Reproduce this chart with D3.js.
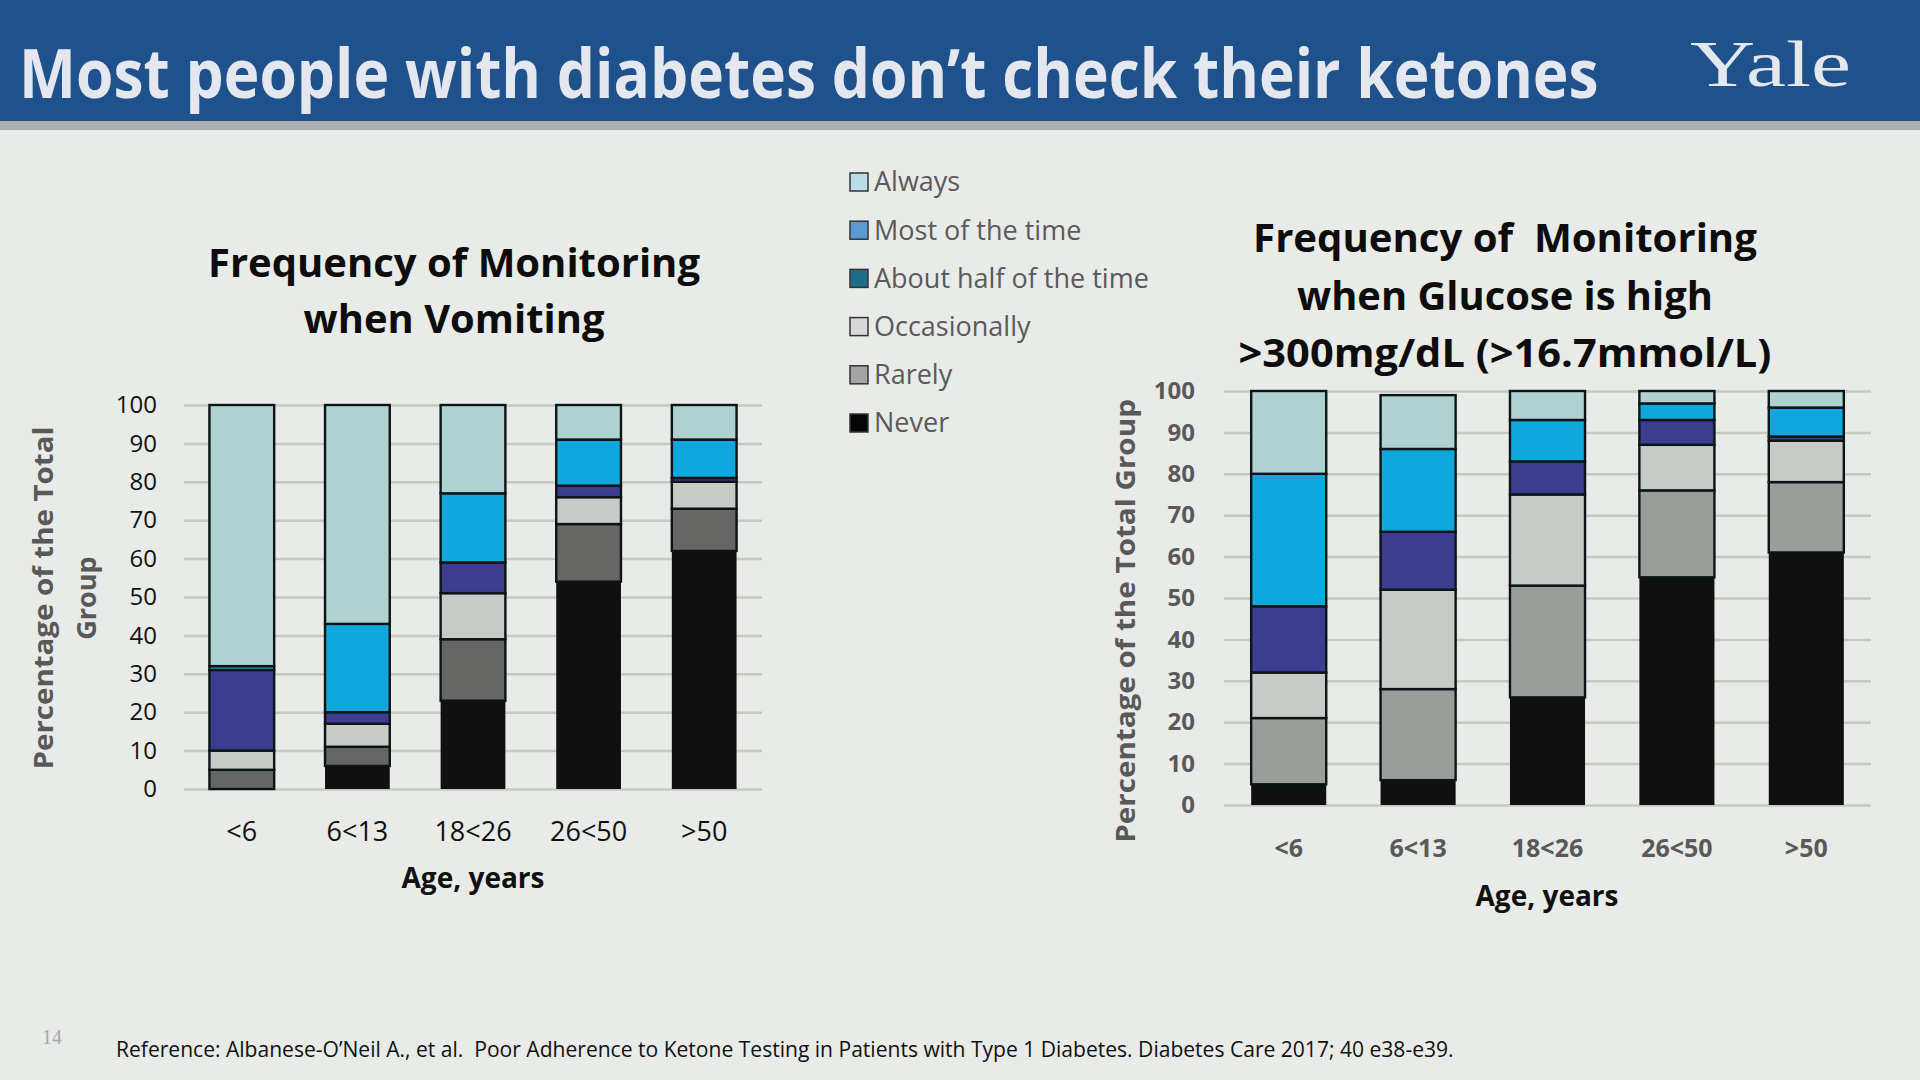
<!DOCTYPE html>
<html>
<head>
<meta charset="utf-8">
<script src="https://cdn.jsdelivr.net/npm/d3@7"></script>
<style>
  html, body { margin: 0; padding: 0; background: #e8ebe7; }
  svg { display: block; }
  text { white-space: pre; }
</style>
</head>
<body>
<svg id="chart" width="1920" height="1080"></svg>
<script>
// ---------------- DATA ----------------
const categories = ["<6", "6<13", "18<26", "26<50", ">50"];
const seriesKeys = ["Never", "Rarely", "Occasionally", "About half of the time", "Most of the time", "Always"];
const legendOrder = ["Always", "Most of the time", "About half of the time", "Occasionally", "Rarely", "Never"];
const yTicks = [0, 10, 20, 30, 40, 50, 60, 70, 80, 90, 100];

// Monitoring when vomiting (% of group)
const vomitNever        = [0, 6, 23, 54, 62];
const vomitRarely       = [5, 5, 16, 15, 11];
const vomitOccasionally = [5, 6, 12, 7, 7];
const vomitHalf         = [21, 3, 8, 3, 1];
const vomitMost         = [1, 23, 18, 12, 10];
const vomitAlways       = [68, 57, 23, 9, 9];

// Monitoring when glucose > 300 mg/dL (% of group)
const glucNever        = [5, 6, 26, 55, 61];
const glucRarely       = [16, 22, 27, 21, 17];
const glucOccasionally = [11, 24, 22, 11, 10];
const glucHalf         = [16, 14, 8, 6, 1];
const glucMost         = [32, 20, 10, 4, 7];
const glucAlways       = [20, 13, 7, 3, 4];

const pageTitle = "Most people with diabetes don\u2019t check their ketones";
const leftTitle = ["Frequency of Monitoring", "when Vomiting"];
const rightTitle = ["Frequency of  Monitoring", "when Glucose is high", ">300mg/dL (>16.7mmol/L)"];
const referenceText = "Reference: Albanese-O\u2019Neil A., et al.  Poor Adherence to Ketone Testing in Patients with Type 1 Diabetes. Diabetes Care 2017; 40 e38-e39.";

// ---------------- STYLE ----------------
const barColorsLeft = {
  "Never": "#101010", "Rarely": "#666764", "Occasionally": "#c8cac6",
  "About half of the time": "#3c3c91", "Most of the time": "#10a8dc", "Always": "#afd2d1"
};
const barColorsRight = Object.assign({}, barColorsLeft, { "Rarely": "#9a9e99" });
const legendColors = {
  "Always": "#b8dde8", "Most of the time": "#5b9bd5", "About half of the time": "#1f6b8c",
  "Occasionally": "#d8d9d6", "Rarely": "#a3a5a2", "Never": "#050505"
};
const FONT = "'Open Sans', 'Noto Sans', sans-serif";

const svg = d3.select("#chart");

// background
svg.append("rect").attr("width", 1920).attr("height", 1080).attr("fill", "#e8ebe7");
// header
svg.append("rect").attr("x", 0).attr("y", 0).attr("width", 1920).attr("height", 121).attr("fill", "#1f528c");
svg.append("rect").attr("x", 0).attr("y", 121).attr("width", 1920).attr("height", 9).attr("fill", "#a9aeb1");

// place text at (x,y), optionally rotated, and squeeze horizontally to width w
function placeText(parent, x, y, w, rot) {
  const t = parent.append("text").attr("x", 0).attr("y", 0);
  t.fitLater = () => {
    const nat = t.node().getComputedTextLength();
    const s = (w && nat > 0) ? w / nat : 1;
    t.attr("transform", `translate(${x},${y})${rot ? ` rotate(${rot})` : ""} scale(${s},1)`);
  };
  return t;
}
const toFit = [];
function fitText(parent, x, y, w, rot) {
  const t = placeText(parent, x, y, w, rot);
  toFit.push(t);
  return t;
}

fitText(svg, 19, 98, 1580).attr("font-family", FONT).attr("font-weight", 700).attr("font-size", 68)
  .attr("fill", "#e4e8ee").text(pageTitle);

fitText(svg, 1690, 86, 161).attr("font-family", "'Liberation Serif', 'DejaVu Serif', serif")
  .attr("font-size", 66).attr("fill", "#e4e8ee").text("Yale");

// ---------------- CHART BUILDER ----------------
function buildChart(opts) {
  const g = svg.append("g");
  const rows = categories.map((c, i) => {
    const o = { cat: c };
    seriesKeys.forEach((k, j) => { o[k] = opts.values[j][i]; });
    return o;
  });
  const stacked = d3.stack().keys(seriesKeys)(rows);

  const x = d3.scaleBand().domain(categories).range([opts.x0, opts.x1])
    .paddingInner(opts.padIn).paddingOuter(opts.padIn / 2);
  const y = d3.scaleLinear().domain([0, 100]).range([opts.y0, opts.y1]);

  // gridlines
  const grid = g.append("g").attr("transform", `translate(${opts.x0},0)`)
    .call(d3.axisLeft(y).tickValues(yTicks).tickSize(-(opts.x1 - opts.x0)).tickFormat(""));
  grid.select(".domain").remove();
  grid.selectAll(".tick line").attr("stroke", "#c6c8c3").attr("stroke-width", 2.5);

  // bars
  g.append("g").selectAll("g").data(stacked).join("g")
    .attr("fill", d => opts.colors[d.key])
    .selectAll("rect").data(d => d.map(v => Object.assign(v, { key: d.key }))).join("rect")
    .filter(d => d[1] - d[0] > 0)
    .attr("x", d => x(d.data.cat))
    .attr("width", x.bandwidth())
    .attr("y", d => y(d[1]))
    .attr("height", d => y(d[0]) - y(d[1]))
    .attr("stroke", d => d.key === "Never" ? "none" : "#0b1515")
    .attr("stroke-width", 2.4);

  // y tick labels
  const ya = g.append("g").attr("transform", `translate(${opts.x0},0)`)
    .call(d3.axisLeft(y).tickValues(yTicks).tickSize(0).tickPadding(opts.yPad));
  ya.select(".domain").remove();
  ya.selectAll("text").attr("font-family", FONT).attr("font-size", opts.tickSize)
    .attr("font-weight", opts.tickWeight).attr("fill", opts.tickColor);

  // x tick labels
  const xa = g.append("g").attr("transform", `translate(0,${opts.y0})`)
    .call(d3.axisBottom(x).tickSize(0).tickPadding(opts.xPad));
  xa.select(".domain").remove();
  xa.selectAll("text").attr("font-family", FONT).attr("font-size", opts.xSize)
    .attr("font-weight", opts.tickWeight).attr("fill", opts.tickColor);

  // x axis title
  g.append("text").attr("x", opts.xTitleX).attr("y", opts.xTitleY).attr("text-anchor", "middle")
    .attr("font-family", FONT).attr("font-weight", 700).attr("font-size", 28)
    .attr("fill", "#111").text("Age, years");

  // y axis title
  opts.yTitle.forEach((t, i) => {
    fitText(g, opts.yTitleX[i], opts.yTitleY, opts.yTitleW[i], -90)
      .attr("text-anchor", "middle")
      .attr("font-family", FONT).attr("font-weight", 700).attr("font-size", 27)
      .attr("fill", "#595959").text(t);
  });

  // chart title
  opts.title.forEach((t, i) => {
    fitText(g, opts.titleX, opts.titleY[i], opts.titleW[i]).attr("text-anchor", "middle")
      .attr("font-family", FONT).attr("font-weight", 700).attr("font-size", 40)
      .attr("fill", "#0d0d0d").text(t);
  });
}

buildChart({
  values: [vomitNever, vomitRarely, vomitOccasionally, vomitHalf, vomitMost, vomitAlways],
  colors: barColorsLeft,
  x0: 184, x1: 762, y0: 789, y1: 405, padIn: 0.44,
  yPad: 27, tickSize: 24, tickWeight: 400, tickColor: "#111",
  xPad: 33, xSize: 27,
  xTitleX: 473, xTitleY: 888,
  yTitle: ["Percentage of the Total", "Group"], yTitleX: [53, 96], yTitleY: 598, yTitleW: [343, 0],
  title: leftTitle, titleX: 454, titleY: [277, 333], titleW: [492, 301]
});

buildChart({
  values: [glucNever, glucRarely, glucOccasionally, glucHalf, glucMost, glucAlways],
  colors: barColorsRight,
  x0: 1224, x1: 1871, y0: 805, y1: 391, padIn: 0.42,
  yPad: 29, tickSize: 24, tickWeight: 700, tickColor: "#595959",
  xPad: 34, xSize: 25,
  xTitleX: 1547, xTitleY: 906,
  yTitle: ["Percentage of the Total Group"], yTitleX: [1135], yTitleY: 621, yTitleW: [444],
  title: rightTitle, titleX: 1505, titleY: [252, 310, 367], titleW: [504, 416, 533]
});

// ---------------- LEGEND ----------------
const legend = svg.append("g");
const legendY = d3.scalePoint().domain(legendOrder).range([182, 423]);
const li = legend.selectAll("g").data(legendOrder).join("g")
  .attr("transform", d => `translate(850,${legendY(d)})`);
li.append("rect").attr("x", 0).attr("y", -9).attr("width", 18).attr("height", 18)
  .attr("fill", d => legendColors[d]).attr("stroke", "#333").attr("stroke-width", 1.5);
li.append("text").attr("x", 24).attr("y", 0).attr("dy", "0.35em")
  .attr("font-family", FONT).attr("font-size", 27).attr("fill", "#5a5a5a").text(d => d);

// ---------------- FOOTER ----------------
svg.append("text").attr("x", 42).attr("y", 1044)
  .attr("font-family", "'Liberation Serif', serif").attr("font-size", 20).attr("fill", "#a8a8a8").text("14");
fitText(svg, 116, 1057, 1339).attr("font-family", FONT).attr("font-size", 21)
  .attr("fill", "#111").text(referenceText);

toFit.forEach(t => t.fitLater());
</script>
</body>
</html>
